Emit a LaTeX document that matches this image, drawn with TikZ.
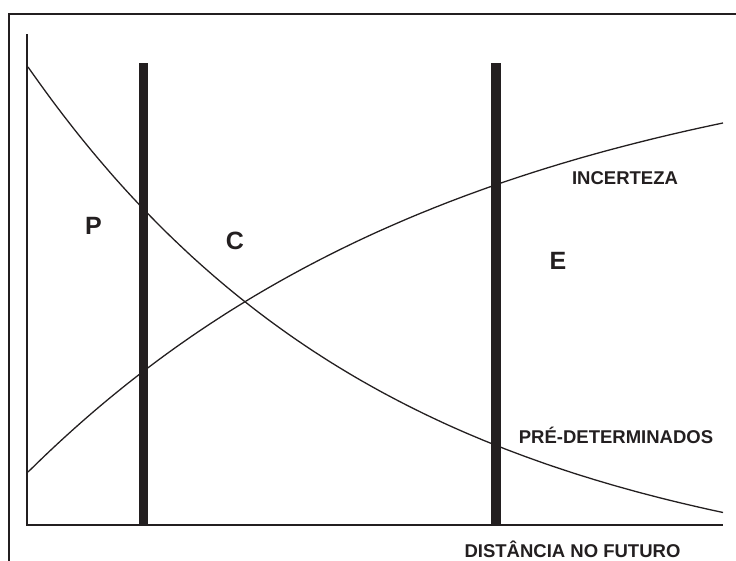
\documentclass[tikz,border=0pt]{standalone}
\usepackage{fontspec}
\setmainfont{Liberation Sans}
\definecolor{ink}{HTML}{231F20}
\begin{document}
\begin{tikzpicture}[x=1pt,y=-1pt,
  frame/.style={draw=ink,line width=2.2pt},
  axis/.style={draw=ink,line width=2pt},
  bar/.style={draw=ink,line width=9.5pt},
  curve/.style={draw=ink,line width=1.3pt},
  big/.style={font=\fontsize{25}{25}\selectfont\bfseries,text=ink,inner sep=0pt},
  lab/.style={font=\fontsize{18.5}{19}\selectfont\bfseries,text=ink,inner sep=0pt}]
\useasboundingbox (0,0) rectangle (736,560);
% frame
\coordinate (fbl) at (9,562);
\coordinate (ftl) at (9,14);
\coordinate (ftr) at (738,14);
\draw[frame] (fbl) -- (ftl) -- (ftr);
% axes
\coordinate (ytop) at (27,34);
\coordinate (orig) at (27,525);
\coordinate (xend) at (723,525);
\draw[axis] (ytop) -- (orig) -- (xend);
% bars
\coordinate (b1t) at (143.5,63);
\coordinate (b1b) at (143.5,524);
\coordinate (b2t) at (496,63);
\coordinate (b2b) at (496,524);
\draw[bar] (b1t) -- (b1b);
\draw[bar] (b2t) -- (b2b);
% curves
\draw[curve] plot[domain=28:723,samples=120,variable=\x] ({\x},{590-523*exp(-0.00274*(\x-28))});
\draw[curve] plot[domain=28:723,samples=120,variable=\x] ({\x},{30+442*exp(-0.00225*(\x-28))});
% labels
\node[big] (p) at (93.5,226) {P};
\node[big] (c) at (235,241) {C};
\node[big] (e) at (558,261) {E};
\node[lab] (inc) at (625,178) {INCERTEZA};
\node[lab] (pre) at (616,435) {PRÉ-DETERMINADOS};
\node[lab] (dist) at (572.5,549) {DISTÂNCIA NO FUTURO};
\end{tikzpicture}
\end{document}
